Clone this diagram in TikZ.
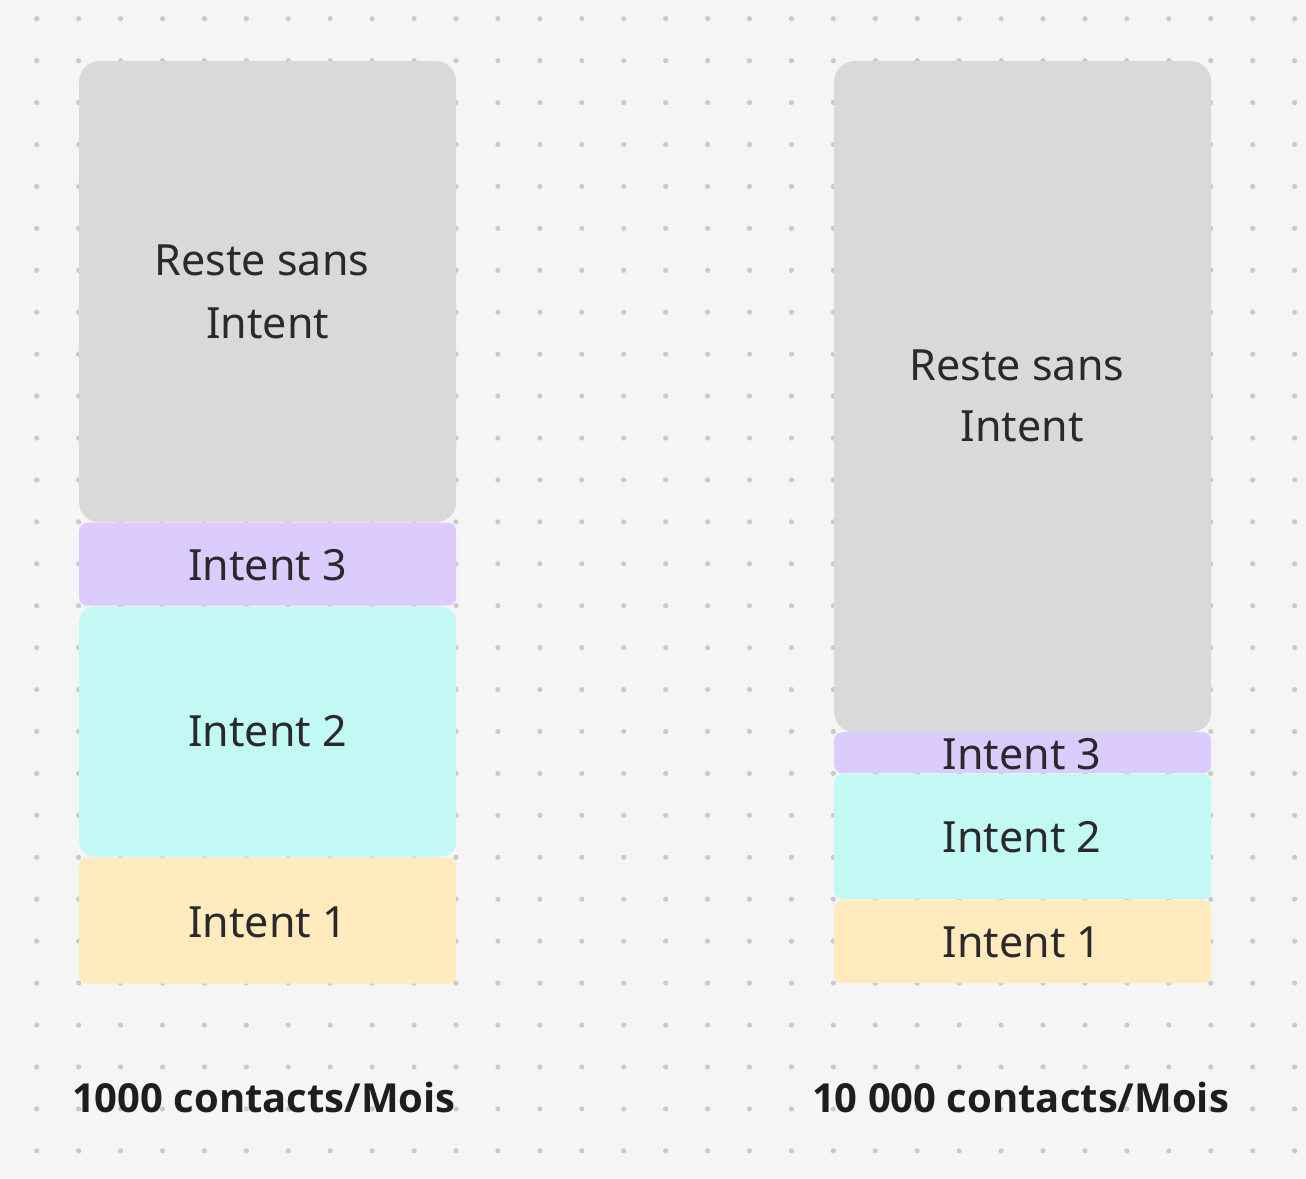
\documentclass[tikz,border=0pt]{standalone}
\usepackage{fontspec}
\setmainfont{Noto Sans}
\newfontfamily\boldfam{Open Sans}
\definecolor{bg}{HTML}{F5F5F5}
\definecolor{dotc}{HTML}{CACACA}
\definecolor{grayb}{HTML}{D9D9D9}
\definecolor{purpb}{HTML}{DCCCFE}
\definecolor{cyanb}{HTML}{C3F9F4}
\definecolor{yelb}{HTML}{FFEBBD}
\definecolor{txt}{HTML}{2A2A2C}
\definecolor{btxt}{HTML}{1E1E1E}
\begin{document}
\begin{tikzpicture}[x=1bp,y=-1bp,
  bar/.style={rectangle,inner sep=0pt,minimum width=377bp,anchor=north west},
  lbl/.style={anchor=base,inner sep=0pt,text=txt,font=\fontsize{43bp}{50bp}\selectfont},
  blbl/.style={anchor=base,inner sep=0pt,text=btxt,font=\boldfam\bfseries\fontsize{40bp}{48bp}\selectfont}]
\fill[bg] (0,0) rectangle (1306,1178);
\useasboundingbox (0,0) rectangle (1306,1178);
\foreach \i in {0,...,30}{\foreach \j in {0,...,27}{
  \fill[dotc] ({36.7+41.93*\i},{18.7+41.93*\j}) circle[radius=2.6bp];}}
% left column
\node[bar,fill=grayb,rounded corners=20bp,minimum height=461bp] (lg) at (79,61) {};
\node[bar,fill=purpb,rounded corners=8bp,minimum height=83bp] (lp) at (79,522.5) {};
\node[bar,fill=cyanb,rounded corners=15bp,minimum height=250bp] (lc) at (79,606.5) {};
\node[bar,fill=yelb,rounded corners=8bp,minimum height=126bp] (ly) at (79,857.5) {};
% right column
\node[bar,fill=grayb,rounded corners=20bp,minimum height=671bp] (rg) at (834,61) {};
\node[bar,fill=purpb,rounded corners=8bp,minimum height=41bp] (rp) at (834,732) {};
\node[bar,fill=cyanb,rounded corners=8bp,minimum height=125bp] (rc) at (834,774) {};
\node[bar,fill=yelb,rounded corners=8bp,minimum height=83bp] (ry) at (834,900) {};
% labels left
\node[lbl] (lg1) at (262,275.7) {Reste sans};
\node[lbl] (lg2) at (267.7,338.3) {Intent};
\node[lbl] (lpt) at (267.5,580) {Intent 3};
\node[lbl] (lct) at (267.5,746.7) {Intent 2};
\node[lbl] (lyt) at (267.5,937) {Intent 1};
% labels right
\node[lbl] (rg1) at (1017,380) {Reste sans};
\node[lbl] (rg2) at (1022,441.7) {Intent};
\node[lbl] (rpt) at (1022,769.3) {Intent 3};
\node[lbl] (rct) at (1022,852.7) {Intent 2};
\node[lbl] (ryt) at (1022,957.3) {Intent 1};
% bottom labels
\node[blbl] (lb) at (264,1112.5) {1000 contacts/Mois};
\node[blbl] (rb) at (1020.5,1112.5) {10 000 contacts/Mois};
\end{tikzpicture}
\end{document}
